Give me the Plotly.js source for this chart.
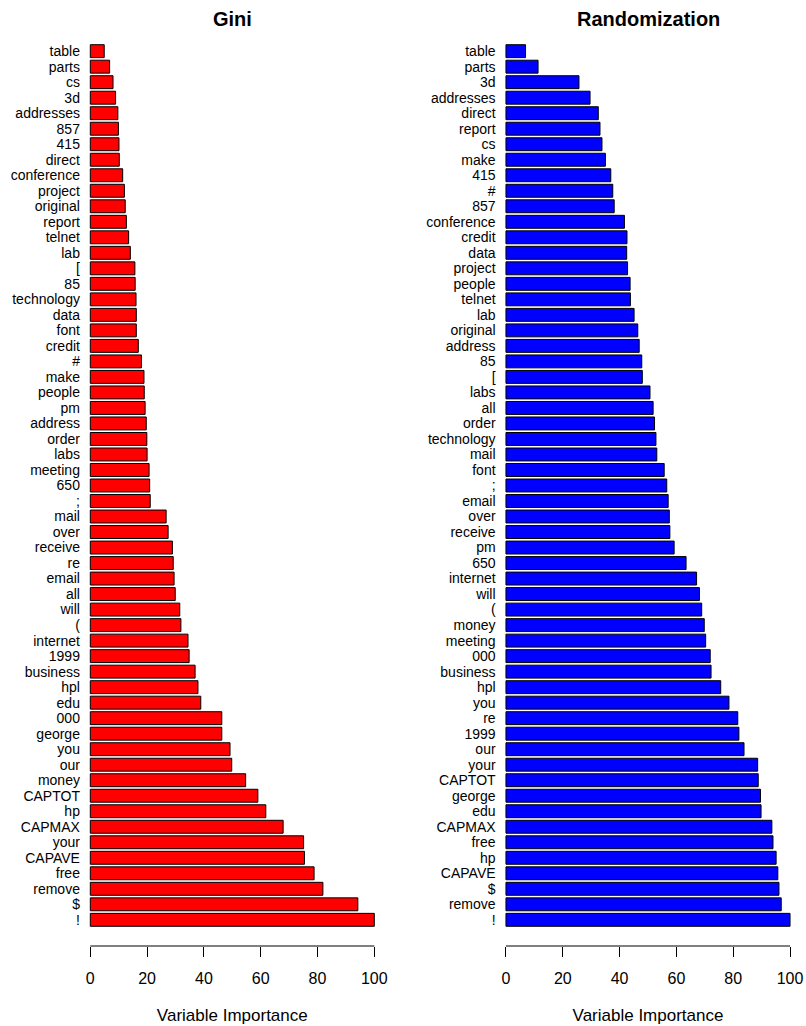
<!DOCTYPE html>
<html>
<head>
<meta charset="utf-8">
<script src="https://cdn.plot.ly/plotly-3.0.1.min.js"></script>
<style>html,body{margin:0;padding:0;background:#fff;}#chart{width:806px;height:1026px;}</style>
</head>
<body>
<div id="chart"></div>
<script>
// Gini panel (top to bottom)
var giniNames = ["table","parts","cs","3d","addresses","857","415","direct","conference","project","original","report","telnet","lab","[","85","technology","data","font","credit","#","make","people","pm","address","order","labs","meeting","650",";","mail","over","receive","re","email","all","will","(","internet","1999","business","hpl","edu","000","george","you","our","money","CAPTOT","hp","CAPMAX","your","CAPAVE","free","remove","$","!"];
var giniValues = [4.9,6.8,8.0,8.9,9.7,9.9,10.1,10.2,11.4,12.0,12.3,12.7,13.5,14.1,15.7,15.8,16.1,16.2,16.2,16.9,18.0,18.9,19.0,19.3,19.7,19.9,20.0,20.7,20.9,21.1,26.7,27.4,28.9,29.2,29.5,29.9,31.5,31.9,34.4,34.8,36.9,37.9,38.9,46.3,46.3,49.2,49.8,54.7,59.0,61.8,67.9,75.1,75.4,78.8,81.9,94.2,100];

// Randomization panel (top to bottom)
var randNames = ["table","parts","3d","addresses","direct","report","cs","make","415","#","857","conference","credit","data","project","people","telnet","lab","original","address","85","[","labs","all","order","technology","mail","font",";","email","over","receive","pm","650","internet","will","(","money","meeting","000","business","hpl","you","re","1999","our","your","CAPTOT","george","edu","CAPMAX","free","hp","CAPAVE","$","remove","!"];
var randValues = [6.9,11.3,25.7,29.6,32.5,33.1,33.8,35.0,36.9,37.6,38.1,41.7,42.6,42.5,42.8,43.7,43.8,45.1,46.4,46.9,47.8,48.0,50.7,51.8,52.3,52.8,53.1,55.7,56.6,57.1,57.5,57.7,59.2,63.4,67.1,68.1,68.9,69.8,70.3,71.9,72.2,75.6,78.5,81.6,82.0,83.8,88.6,88.8,89.6,89.8,93.6,94.0,95.1,95.7,96.1,96.9,100];

var xTicks = [0,20,40,60,80,100];
var panelTitles = ["Gini","Randomization"];
var xTitle = "Variable Importance";

var FONT = "Liberation Sans, Arial, Helvetica, sans-serif";
var W = 806;

var traces = [
  {type:"bar", orientation:"h", x:giniValues, y:giniNames, xaxis:"x", yaxis:"y",
   marker:{color:"#ff0000", line:{color:"#000000", width:1}}, hoverinfo:"x+y", showlegend:false},
  {type:"bar", orientation:"h", x:randValues, y:randNames, xaxis:"x2", yaxis:"y2",
   marker:{color:"#0000ff", line:{color:"#000000", width:1}}, hoverinfo:"x+y", showlegend:false}
];

function xax(domain, anchor){
  return {domain:domain, anchor:anchor, range:[-4,104], showgrid:false, zeroline:false, showline:false,
    tickmode:"array", tickvals:xTicks, ticks:"outside", ticklen:10, tickwidth:1, tickcolor:"#000",
    tickfont:{family:FONT, size:16, color:"#000"}, ticklabelstandoff:8,
    title:{text:xTitle, font:{family:FONT, size:17, color:"#000"}, standoff:22}, automargin:false, fixedrange:true};
}
function yax(cats, anchor){
  return {type:"category", categoryorder:"array", categoryarray:cats, anchor:anchor,
    tickmode:"array", tickvals:cats, ticktext:cats,
    range:[57.687,-1.364], showgrid:false, zeroline:false, showline:false,
    ticks:"", ticklen:0, ticklabelstandoff:-2,
    tickfont:{family:FONT, size:14, color:"#000"}, automargin:false, fixedrange:true};
}

var layout = {
  width:806, height:1026, paper_bgcolor:"#fff", plot_bgcolor:"#fff",
  margin:{l:0, r:0, t:30, b:80},
  bargap:1/6,
  font:{family:FONT, color:"#000"},
  xaxis: xax([78.94/W, 385.66/W], "y"),
  yaxis: yax(giniNames, "x"),
  xaxis2: xax([494.6/W, 801.4/W], "y2"),
  yaxis2: yax(randNames, "x2"),
  shapes:[
    {type:"line", xref:"x", yref:"paper", x0:0, x1:100, y0:0, y1:0, line:{color:"#000", width:1}},
    {type:"line", xref:"x2", yref:"paper", x0:0, x1:100, y0:0, y1:0, line:{color:"#000", width:1}}
  ],
  annotations:[
    {text:"<b>"+panelTitles[0]+"</b>", xref:"x", yref:"paper", x:50, y:1, yshift:11, yanchor:"middle", xanchor:"center", showarrow:false, font:{family:FONT, size:20, color:"#000"}},
    {text:"<b>"+panelTitles[1]+"</b>", xref:"x2", yref:"paper", x:50, y:1, yshift:11, yanchor:"middle", xanchor:"center", showarrow:false, font:{family:FONT, size:20, color:"#000"}}
  ]
};

Plotly.newPlot("chart", traces, layout, {staticPlot:true, displayModeBar:false});
</script>
</body>
</html>
